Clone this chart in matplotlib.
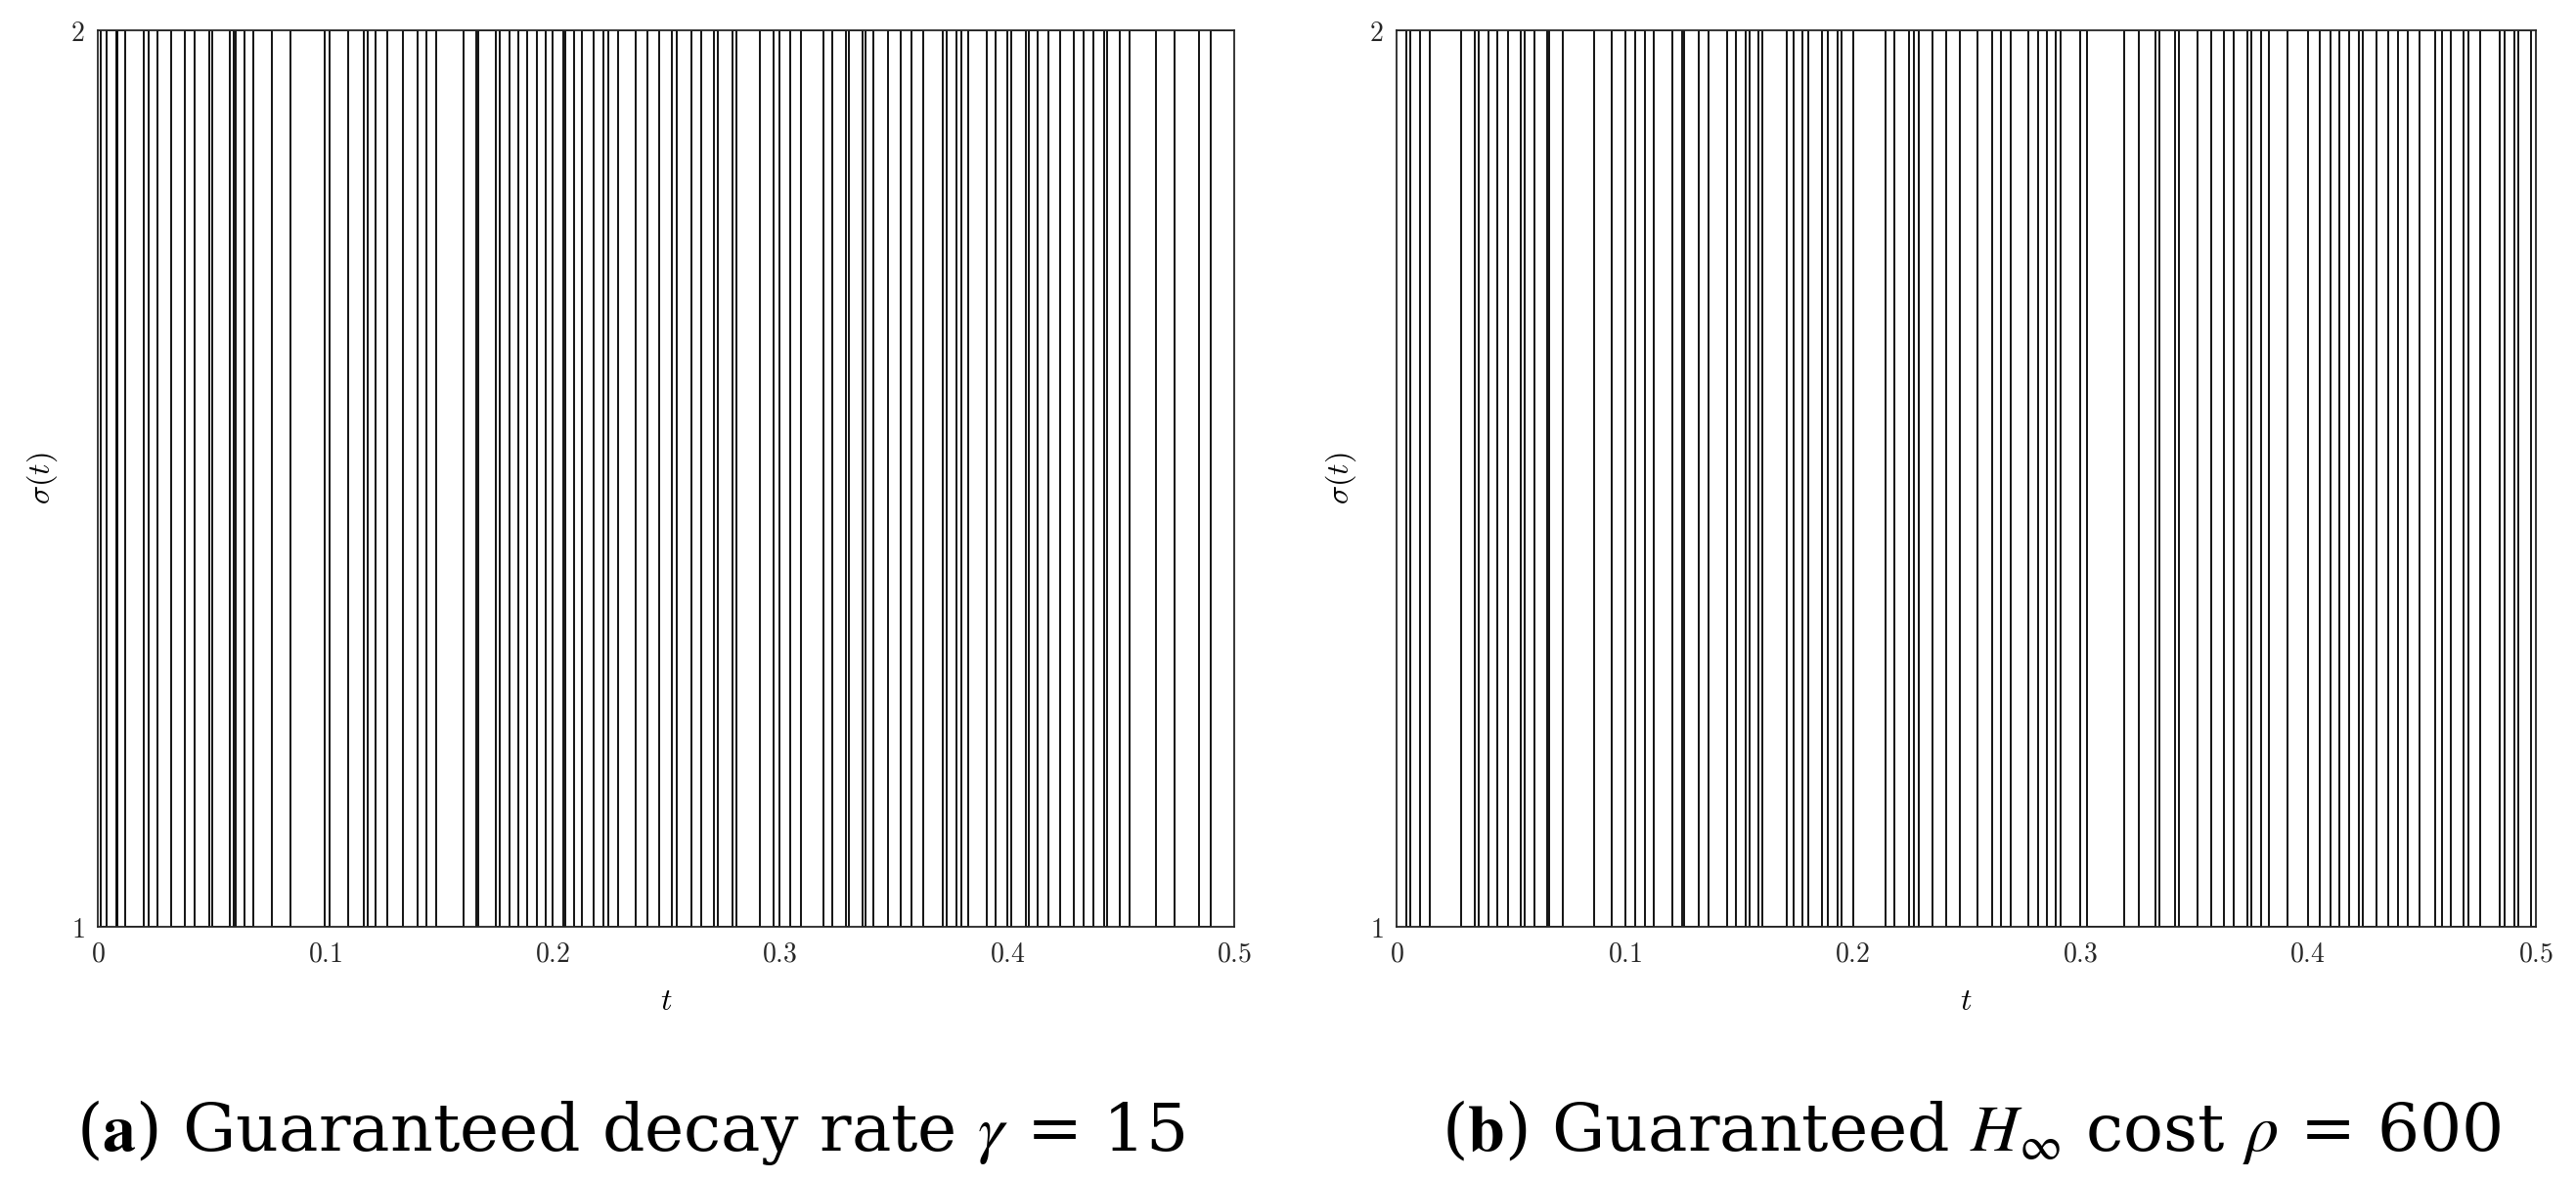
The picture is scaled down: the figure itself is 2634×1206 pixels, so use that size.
import matplotlib
matplotlib.use("Agg")
import matplotlib.pyplot as plt

# switching instants
switch_a = [0.0009, 0.0037, 0.0079, 0.0086, 0.0120, 0.0201, 0.0221, 0.0261, 0.0321, 0.0379,
            0.0425, 0.0488, 0.0502, 0.0580, 0.0597, 0.0605, 0.0643, 0.0683, 0.0763, 0.0846,
            0.0998, 0.1018, 0.1099, 0.1170, 0.1185, 0.1222, 0.1272, 0.1340, 0.1404, 0.1443,
            0.1486, 0.1609, 0.1663, 0.1673, 0.1749, 0.1767, 0.1810, 0.1849, 0.1888, 0.1931,
            0.1969, 0.2000, 0.2046, 0.2057, 0.2093, 0.2129, 0.2179, 0.2222, 0.2246, 0.2287,
            0.2365, 0.2418, 0.2470, 0.2523, 0.2547, 0.2609, 0.2652, 0.2710, 0.2728, 0.2791,
            0.2810, 0.2910, 0.2972, 0.2997, 0.3046, 0.3092, 0.3190, 0.3229, 0.3290, 0.3302,
            0.3365, 0.3376, 0.3412, 0.3474, 0.3531, 0.3577, 0.3632, 0.3718, 0.3732, 0.3778,
            0.3797, 0.3828, 0.3910, 0.3950, 0.4000, 0.4019, 0.4082, 0.4094, 0.4134, 0.4182,
            0.4234, 0.4294, 0.4337, 0.4378, 0.4426, 0.4438, 0.4495, 0.4538, 0.4653, 0.4736,
            0.4842, 0.4897]
switch_b = [0.0040, 0.0058, 0.0100, 0.0143, 0.0283, 0.0341, 0.0358, 0.0404, 0.0441, 0.0487,
            0.0544, 0.0561, 0.0604, 0.0659, 0.0670, 0.0727, 0.0866, 0.0945, 0.1002, 0.1045,
            0.1088, 0.1128, 0.1210, 0.1252, 0.1262, 0.1324, 0.1367, 0.1449, 0.1489, 0.1532,
            0.1549, 0.1586, 0.1606, 0.1711, 0.1743, 0.1782, 0.1806, 0.1868, 0.1892, 0.1935,
            0.1954, 0.2004, 0.2147, 0.2183, 0.2247, 0.2269, 0.2290, 0.2350, 0.2412, 0.2473,
            0.2548, 0.2612, 0.2651, 0.2694, 0.2774, 0.2817, 0.2855, 0.2894, 0.2913, 0.2999,
            0.3031, 0.3194, 0.3256, 0.3332, 0.3349, 0.3418, 0.3435, 0.3514, 0.3575, 0.3632,
            0.3675, 0.3735, 0.3753, 0.3793, 0.3829, 0.3910, 0.4000, 0.4053, 0.4100, 0.4139,
            0.4182, 0.4222, 0.4240, 0.4301, 0.4354, 0.4394, 0.4437, 0.4491, 0.4559, 0.4587,
            0.4626, 0.4683, 0.4706, 0.4755, 0.4841, 0.4863, 0.4906, 0.4923, 0.4981]
modes = [1, 2]
t_end = 0.5
xticks = [0, 0.1, 0.2, 0.3, 0.4, 0.5]
xticklabels = ["0", "0.1", "0.2", "0.3", "0.4", "0.5"]
captions = [r"($\mathbf{a}$) Guaranteed decay rate $\gamma$ = 15",
            r"($\mathbf{b}$) Guaranteed $H_\infty$ cost $\rho$ = 600"]

plt.rcParams['mathtext.fontset'] = 'cm'

W, H = 2634, 1206
fig = plt.figure(figsize=(W / 100, H / 100), dpi=100)

ax_boxes = [(100.5, 1262.3), (1428.3, 2592.7)]
caption_x = [645, 2016]
y_top, y_bot = 30.7, 948.0


def signal(sw):
    t = [0.0] + list(sw) + [t_end]
    s = []
    cur = modes[1]
    for _ in range(len(t) - 1):
        s.append(cur)
        cur = modes[0] if cur == modes[1] else modes[1]
    s.append(s[-1])
    return t, s


for sw, (x0, x1), cap, cx in zip([switch_a, switch_b], ax_boxes, captions, caption_x):
    ax = fig.add_axes([x0 / W, 1 - y_bot / H, (x1 - x0) / W, (y_bot - y_top) / H])
    t, s = signal(sw)
    ax.plot(t, s, drawstyle='steps-post', color='black', lw=1.3)
    ax.set_xlim(0, t_end)
    ax.set_ylim(1, 2)
    ax.set_xticks(xticks)
    ax.set_xticklabels(["$%s$" % l for l in xticklabels], fontsize=20)
    ax.set_yticks(modes)
    ax.set_yticklabels(["$%d$" % m for m in modes], fontsize=20)
    ax.tick_params(direction='in', length=0, pad=10, colors='#262626')
    for sp in ax.spines.values():
        sp.set_linewidth(1.3)
        sp.set_color('#262626')
    ax.set_xlabel(r"$t$", fontsize=23, labelpad=14)
    ax.set_ylabel(r"$\sigma(t)$", fontsize=23, labelpad=8)
    fig.text(cx / W, 1 - 1158 / H, cap, ha='center', va='center',
             fontsize=49, family='DejaVu Serif', math_fontfamily='stix')

fig.savefig("out.png", dpi=100)
